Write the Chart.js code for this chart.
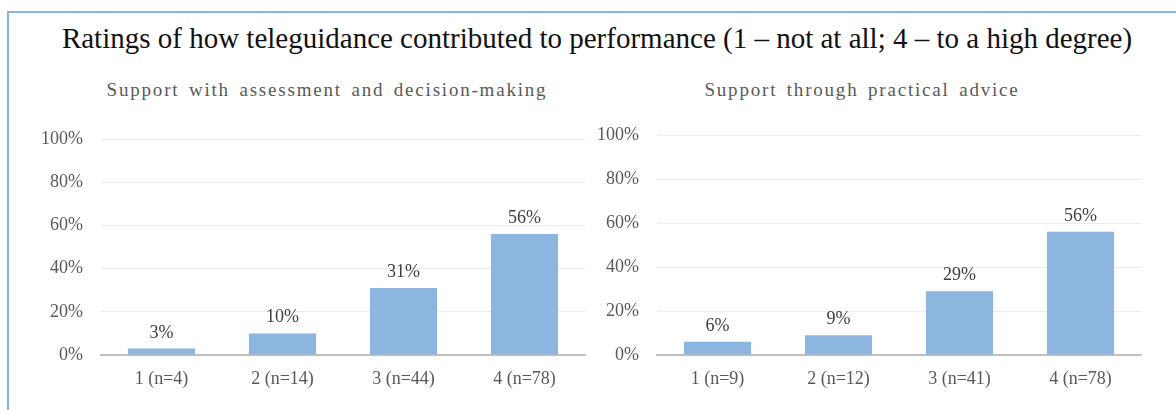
<!DOCTYPE html>
<html>
<head>
<meta charset="utf-8">
<script src="https://cdn.jsdelivr.net/npm/chart.js@4"></script>
<style>
  html, body { margin: 0; padding: 0; background: #fff; }
  body { width: 1176px; height: 410px; position: relative; overflow: hidden; font-family: "Liberation Serif", "Times New Roman", serif; }
  .frame { position: absolute; left: 7px; top: 11px; width: 1200px; height: 420px; border-top: 2px solid #86B3E0; border-left: 2px solid #86B3E0; }
  .title { position: absolute; left: 0; width: 1194px; top: 22px; text-align: center; font-size: 29px; color: #111; white-space: nowrap; }
  .sub { position: absolute; top: 79px; text-align: center; font-size: 19px; color: #595959; letter-spacing: 1.8px; word-spacing: 3px; white-space: nowrap; }
  .box { position: absolute; top: 100px; width: 600px; height: 310px; }
</style>
</head>
<body>
<div class="frame"></div>
<div class="title">Ratings of how teleguidance contributed to performance (1 – not at all; 4 – to a high degree)</div>
<div class="sub" style="left:27px; width:600px;">Support with assessment and decision-making</div>
<div class="sub" style="left:562px; width:600px;">Support through practical advice</div>
<div class="box" style="left:0px;"><canvas id="chart-left"></canvas></div>
<div class="box" style="left:556px;"><canvas id="chart-right"></canvas></div>

<script>
// Chart data
const assessLabels = ['1 (n=4)', '2 (n=14)', '3 (n=44)', '4 (n=78)'];
const assessValues = [3, 10, 31, 56];

const adviceLabels = ['1 (n=9)', '2 (n=12)', '3 (n=41)', '4 (n=78)'];
const adviceValues = [6, 9, 29, 56];

const yTicks = [0, 20, 40, 60, 80, 100];

const barColor = '#8CB5E0';
const tickColor = '#595959';
const fontFamily = '"Liberation Serif", "Times New Roman", serif';

// Draws the percentage above each bar
const valueLabels = {
    id: 'valueLabels',
    afterDatasetsDraw(chart) {
        const ctx = chart.ctx;
        const meta = chart.getDatasetMeta(0);
        const data = chart.data.datasets[0].data;
        ctx.save();
        ctx.font = '18px ' + fontFamily;
        ctx.fillStyle = '#404040';
        ctx.textAlign = 'center';
        ctx.textBaseline = 'alphabetic';
        meta.data.forEach((bar, i) => {
            ctx.fillText(data[i] + '%', bar.x, bar.y - 11);
        });
        ctx.restore();
    }
};

function makeChart(id, labels, values, topPad) {
    const ctx = document.getElementById(id);
    return new Chart(ctx, {
        type: 'bar',
        data: {
            labels: labels,
            datasets: [{
                data: values,
                backgroundColor: barColor,
                borderWidth: 0,
                barPercentage: 0.555,
                categoryPercentage: 1
            }]
        },
        options: {
            responsive: true,
            maintainAspectRatio: false,
            animation: false,
            events: [],
            layout: {
                padding: { top: topPad, right: 15, bottom: 0, left: 0 }
            },
            plugins: {
                legend: { display: false },
                tooltip: { enabled: false }
            },
            scales: {
                x: {
                    grid: { display: false, drawTicks: false },
                    border: { color: '#BFBFBF', width: 2 },
                    ticks: {
                        color: tickColor,
                        padding: 13,
                        font: { family: fontFamily, size: 18 }
                    },
                    afterFit(scale) { scale.height = 55; }
                },
                y: {
                    min: 0,
                    max: 100,
                    afterBuildTicks(scale) {
                        scale.ticks = yTicks.map(v => ({ value: v }));
                    },
                    grid: { color: '#EBEBEB', lineWidth: 1, drawTicks: false },
                    border: { display: false },
                    ticks: {
                        color: tickColor,
                        padding: 18,
                        font: { family: fontFamily, size: 18 },
                        callback: v => v + '%'
                    },
                    afterFit(scale) { scale.width = 101; }
                }
            }
        },
        plugins: [valueLabels]
    });
}

makeChart('chart-left', assessLabels, assessValues, 39);
makeChart('chart-right', adviceLabels, adviceValues, 35);
</script>
</body>
</html>
